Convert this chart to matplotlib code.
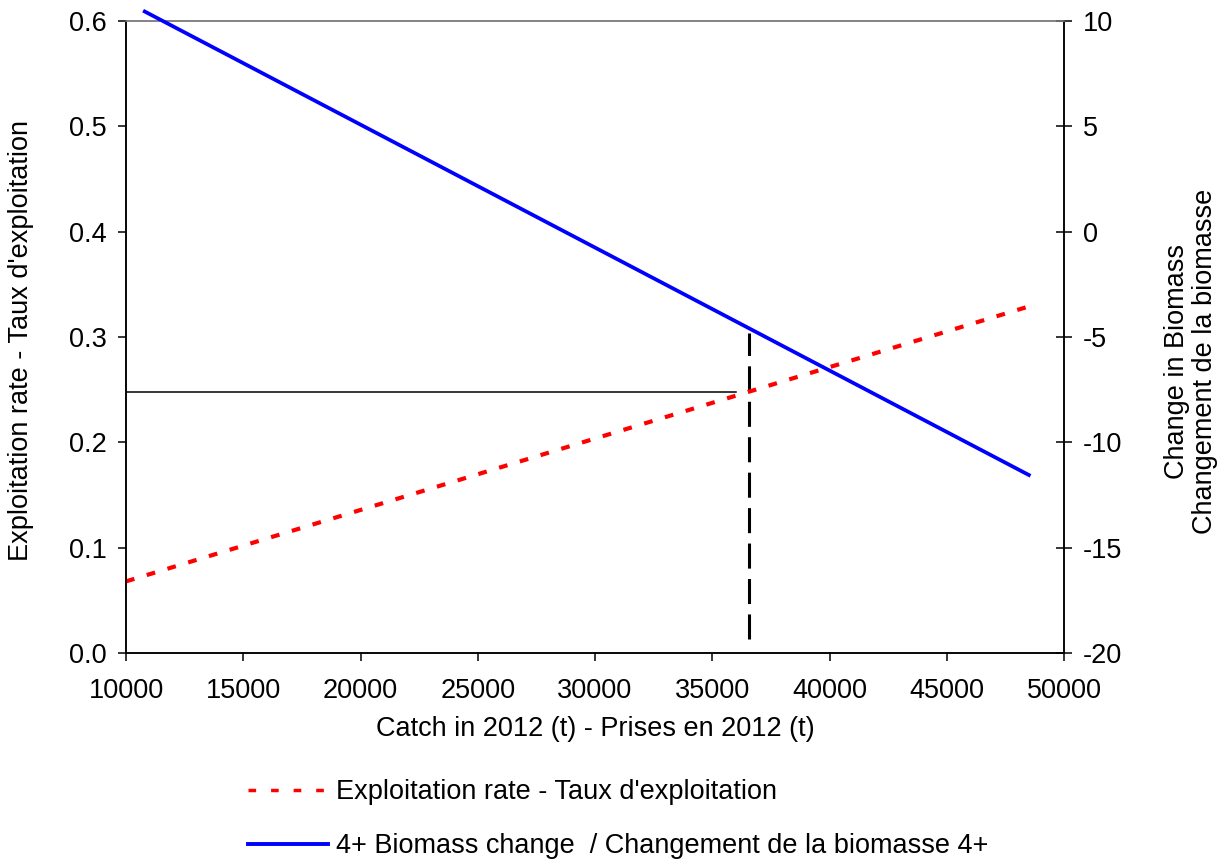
import matplotlib
matplotlib.use("Agg")
import matplotlib.pyplot as plt
from matplotlib.lines import Line2D

plt.rcParams['font.family'] = ['Liberation Sans', 'DejaVu Sans']
plt.rcParams['axes.unicode_minus'] = False

# Data
rate_catch = [10000, 48500]
exploitation_rate = [0.068, 0.329]
bio_catch = [10800, 48500]
biomass_change = [10.45, -11.55]
ref_hline_x = [10000, 36000]
ref_hline_y = [0.248, 0.248]
ref_vline_x = [36550, 36550]
ref_vline_y = [0.013, 0.304]

x_ticks = [10000, 15000, 20000, 25000, 30000, 35000, 40000, 45000, 50000]
left_ticks = [0.0, 0.1, 0.2, 0.3, 0.4, 0.5, 0.6]
right_ticks = [-20, -15, -10, -5, 0, 5, 10]

W, H = 1225, 863
fig = plt.figure(figsize=(W / 100, H / 100), dpi=100)
ax = fig.add_axes([126 / W, 1 - 653 / H, (1064 - 126) / W, (653 - 21) / H])
ax2 = ax.twinx()

fs = 19.5
red_ls = (0, (2.1, 3.1))

ax.plot(ref_hline_x, ref_hline_y, color='black', lw=1.1, zorder=3)
ax.plot(ref_vline_x, ref_vline_y, color='black', lw=2.2,
        linestyle=(0, (8.2, 3.4)), zorder=3)
ax.plot(rate_catch, exploitation_rate, color='#ff0000', lw=3.0,
        linestyle=red_ls, zorder=4, clip_on=False)
ax2.plot(bio_catch, biomass_change, color='#0000ff', lw=2.7, zorder=5,
         clip_on=False)

ax.set_xlim(10000, 50000)
ax.set_ylim(0, 0.6)
ax2.set_ylim(-20, 10)
ax.set_xticks(x_ticks)
ax.set_yticks(left_ticks)
ax.set_yticklabels([f"{v:.1f}" for v in left_ticks])
ax2.set_yticks(right_ticks)
ax2.set_yticklabels([str(v) for v in right_ticks])

for a in (ax, ax2):
    for s in a.spines.values():
        s.set_linewidth(1.1)
        s.set_color('black')
    a.spines['top'].set_color('#808080')
ax2.set_zorder(ax.get_zorder() + 1)
ax2.patch.set_visible(False)

ax.tick_params(axis='x', direction='out', length=5.8, width=1.1, pad=12,
               labelsize=fs, colors='black')
ax.tick_params(axis='y', direction='out', length=5.8, width=1.1, pad=8,
               labelsize=fs)
ax2.tick_params(axis='y', direction='inout', length=11.5, width=1.1, pad=8,
                labelsize=fs)

ax.set_xlabel("Catch in 2012 (t) - Prises en 2012 (t)", fontsize=fs, labelpad=8.5)
ax.set_ylabel("Exploitation rate - Taux d'exploitation", fontsize=fs)
ax.yaxis.set_label_coords(-0.098, 0.494)
ax2.set_ylabel("Change in Biomass\nChangement de la biomasse", fontsize=fs,
               linespacing=1.1)
ax2.yaxis.set_label_coords(1.1065, 0.462)

handles = [
    Line2D([], [], color='#ff0000', lw=2.5, linestyle=(0, (2.2, 4.3))),
    Line2D([], [], color='#0000ff', lw=2.8),
]
labels = ["Exploitation rate - Taux d'exploitation",
          "4+ Biomass change  / Changement de la biomasse 4+"]
fig.legend(handles, labels, loc='upper left',
           bbox_to_anchor=(248 / W, 1 - 779 / H), frameon=False,
           fontsize=fs, handlelength=2.95, handletextpad=0.3,
           labelspacing=1.05, borderpad=0, borderaxespad=0)

fig.savefig("out.png", dpi=100)
